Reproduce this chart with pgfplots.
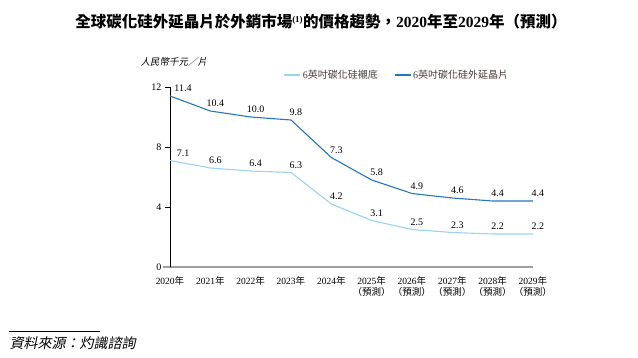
\documentclass[border=0pt]{standalone}
\usepackage{fontspec}
\usepackage{pgfplots}
\pgfplotsset{compat=1.18}
\setmainfont{Liberation Serif}
\newfontfamily\cjk{Noto Sans CJK TC}
\newfontfamily\cjkit[FakeSlant=0.2]{Noto Sans CJK TC}
\newcommand\nian{{\cjk 年}}
\definecolor{darkblue}{RGB}{35,118,195}
\definecolor{lightblue}{RGB}{150,212,240}
\definecolor{legtext}{RGB}{70,60,55}
\begin{document}
\begin{tikzpicture}
\useasboundingbox (0pt,0pt) rectangle (638pt,357pt);
\begin{axis}[
  at={(170pt,90pt)}, anchor=south west,
  scale only axis, width=363pt, height=180pt,
  xmin=0, xmax=9, ymin=0, ymax=12,
  clip=false,
  axis lines*=left,
  x axis line style={draw=gray!75, line width=1.6pt, shorten <=-7pt},
  y axis line style={draw=black, line width=0.8pt},
  xtick={0,...,9},
  xticklabels={2020\nian,2021\nian,2022\nian,2023\nian,2024\nian,
    {2025\nian\\{\cjk（預測）}},{2026\nian\\{\cjk（預測）}},{2027\nian\\{\cjk（預測）}},
    {2028\nian\\{\cjk（預測）}},{2029\nian\\{\cjk（預測）}}},
  xticklabel style={align=center, font=\fontsize{9.5}{11}\selectfont, yshift=-1pt},
  x tick style={draw=none},
  ytick={0,4,8,12},
  yticklabel style={font=\fontsize{10}{12}\selectfont},
  y tick style={draw=black, line width=0.8pt},
  tick align=outside,
  major tick length=5pt,
  /pgf/number format/assume math mode=true,
  nodes near coords,
  nodes near coords style={font=\fontsize{10}{12}\selectfont, text=black,
    /pgf/number format/fixed, /pgf/number format/precision=1,
    /pgf/number format/fixed zerofill, anchor=south, xshift=5pt, yshift=0pt},
  coordinate style/.condition={\coordindex==0}{xshift=8pt},
  legend columns=2,
  legend style={draw=none, fill=none, at={(0.625,1.067)}, anchor=center,
    font=\fontsize{10}{12}\selectfont\cjk, text=legtext,
    /tikz/every even column/.append style={column sep=14pt}},
  legend image code/.code={\draw[#1, line width=1.3pt] (0pt,0pt) -- (16pt,0pt);},
]
\addplot[lightblue, line width=1.1pt, mark=none] coordinates {
  (0,7.1) (1,6.6) (2,6.4) (3,6.3) (4,4.2) (5,3.1) (6,2.5) (7,2.3) (8,2.2) (9,2.2)};
\addlegendentry{{\rmfamily 6}英吋碳化硅襯底}
\addplot[darkblue, line width=1.1pt, mark=none] coordinates {
  (0,11.4) (1,10.4) (2,10.0) (3,9.8) (4,7.3) (5,5.8) (6,4.9) (7,4.6) (8,4.4) (9,4.4)};
\addlegendentry{{\rmfamily 6}英吋碳化硅外延晶片}
\end{axis}
\node[font=\bfseries\fontsize{15.5}{18}\selectfont, anchor=center] at (321pt,335pt)
  {{\cjk 全球碳化硅外延晶片於外銷市場}\textsuperscript{\fontsize{9}{10}\selectfont(1)}{\cjk 的價格趨勢，}2020{\cjk 年至}2029{\cjk 年（預測）}};
\node[font=\cjkit\fontsize{9.5}{11}\selectfont, anchor=west] at (137pt,295pt) {人民幣千元／片};
\draw[line width=0.6pt] (9pt,26pt) -- (100pt,26pt);
\node[font=\cjkit\fontsize{14}{16}\selectfont, anchor=west] at (6pt,14pt) {資料來源：灼識諮詢};
\end{tikzpicture}
\end{document}
